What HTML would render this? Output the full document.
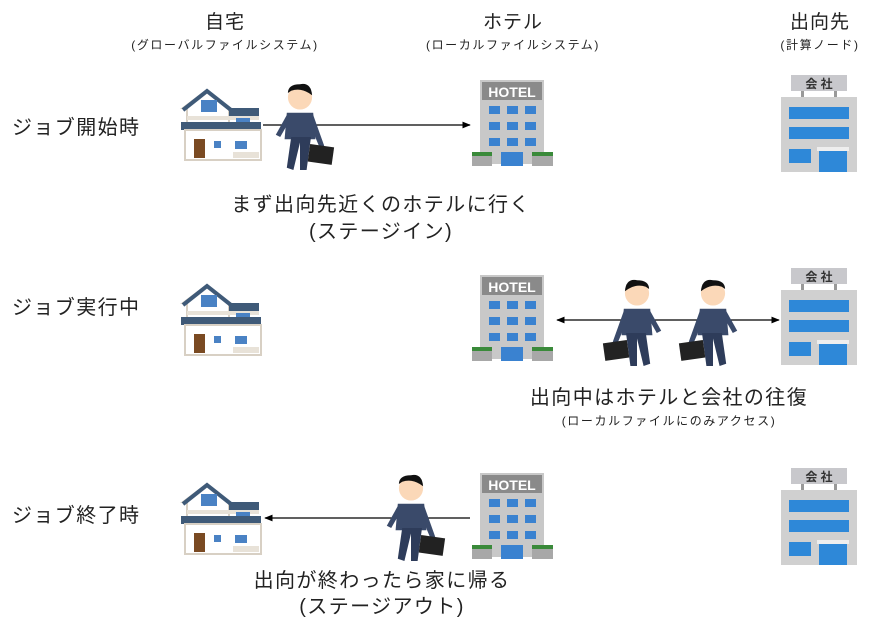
<!DOCTYPE html>
<html><head><meta charset="utf-8"><style>
html,body{margin:0;padding:0;background:#fff;width:886px;height:624px;overflow:hidden}
svg text{font-family:"Liberation Sans","Noto Sans CJK JP",sans-serif;fill:#222}
.big{font-size:20px;letter-spacing:1.4px}
.hd{font-size:19px;letter-spacing:1px}
.sm{font-size:12px;letter-spacing:1.6px}
</style></head><body>
<svg width="886" height="624" viewBox="0 0 886 624" xmlns="http://www.w3.org/2000/svg">
<defs>
<marker id="ah" viewBox="0 0 10 10" refX="9" refY="5" markerWidth="7" markerHeight="7" orient="auto-start-reverse"><path d="M0,1 L10,5 L0,9 z" fill="#000"/></marker>
<g id="house">
 <polygon points="2,22 26,4 48,22 48,56 6,56 6,22" fill="#fff" stroke="#d8d0c4" stroke-width="2"/>
 <polyline points="2,24 26,5 50,24" fill="none" stroke="#3f5a78" stroke-width="4"/>
 <rect x="48" y="22" width="30" height="10" fill="#3f5a78"/>
 <rect x="6" y="30" width="72" height="4" fill="#e8e2d8"/>
 <rect x="0" y="36" width="80" height="8" fill="#3f5a78"/>
 <rect x="4" y="44" width="76" height="30" fill="#fff" stroke="#d8d0c4" stroke-width="2"/>
 <rect x="20" y="14" width="16" height="12" fill="#4a82c4"/>
 <rect x="55" y="32" width="14" height="4" fill="#4a82c4"/>
 <rect x="13" y="53" width="11" height="19" fill="#7a4a22"/>
 <rect x="33" y="55" width="7" height="7" fill="#4a82c4"/>
 <rect x="54" y="55" width="12" height="8" fill="#4a82c4"/>
 <rect x="52" y="66" width="26" height="6" fill="#e8e2d8"/>
</g>
<g id="hotel">
 <rect x="8" y="0" width="64" height="84" fill="#c8c8c8"/>
 <rect x="10" y="2" width="60" height="18" fill="#8a8a8a"/>
 <text x="40" y="17" text-anchor="middle" font-size="14" font-weight="bold" style="fill:#fff">HOTEL</text>
 <g fill="#3a82d0">
 <rect x="17" y="26" width="11" height="8"/><rect x="35" y="26" width="11" height="8"/><rect x="53" y="26" width="11" height="8"/>
 <rect x="17" y="42" width="11" height="8"/><rect x="35" y="42" width="11" height="8"/><rect x="53" y="42" width="11" height="8"/>
 <rect x="17" y="58" width="11" height="8"/><rect x="35" y="58" width="11" height="8"/><rect x="53" y="58" width="11" height="8"/>
 <rect x="29" y="72" width="22" height="14"/></g>
 <rect x="0" y="74" width="20" height="12" fill="#a8a8a8"/><rect x="0" y="72" width="20" height="4" fill="#3a8a3a"/>
 <rect x="60" y="74" width="21" height="12" fill="#a8a8a8"/><rect x="60" y="72" width="21" height="4" fill="#3a8a3a"/>
</g>
<g id="comp">
 <rect x="10" y="0" width="56" height="16" fill="#c8c8cc"/>
 <text x="38" y="13" text-anchor="middle" font-size="12" font-weight="bold" style="fill:#333">会 社</text>
 <rect x="20" y="16" width="3" height="6" fill="#999"/><rect x="53" y="16" width="3" height="6" fill="#999"/>
 <rect x="0" y="22" width="76" height="75" fill="#d0d0d0"/>
 <rect x="8" y="32" width="60" height="12" fill="#2e88d8"/>
 <rect x="8" y="52" width="60" height="12" fill="#2e88d8"/>
 <rect x="8" y="74" width="22" height="14" fill="#2e88d8"/>
 <rect x="36" y="72" width="32" height="4" fill="#eee"/>
 <rect x="38" y="76" width="28" height="21" fill="#2e88d8"/>
</g>
<g id="man0">
 <circle cx="30" cy="14" r="11" fill="#fbd8b8"/>
 <path d="M19,12 Q20,0 30,2 Q41,2 41,10 L38,8 Q30,5 22,10 Z" fill="#111"/>
 <path d="M18,28 L42,28 L44,52 L16,52 Z" fill="#3a4a6a"/>
 <path d="M20,50 L24,80 L30,80 L30,55 L36,80 L42,78 L38,50 Z" fill="#2e3c5a"/>
 <path d="M18,30 L8,58 L12,60 L22,36Z" fill="#3a4a6a"/>
 <path d="M42,30 L52,48 L48,50 L40,36Z" fill="#3a4a6a"/>
 <rect x="0" y="58" width="22" height="16" fill="#222" transform="rotate(-8 10 66)"/>
</g>
<g id="man" transform="scale(1.1)"><use href="#man0"/></g>
<g id="manL" transform="translate(58,0) scale(-1.1,1.1)"><use href="#man0"/></g>
</defs>

<text x="225" y="28" text-anchor="middle" class="hd">自宅</text>
<text x="225" y="49" text-anchor="middle" class="sm">(グローバルファイルシステム)</text>
<text x="513" y="28" text-anchor="middle" class="hd">ホテル</text>
<text x="513" y="49" text-anchor="middle" class="sm">(ローカルファイルシステム)</text>
<text x="820" y="28" text-anchor="middle" class="hd">出向先</text>
<text x="820" y="49" text-anchor="middle" class="sm">(計算ノード)</text>

<text x="12" y="134" class="big">ジョブ開始時</text>
<text x="12" y="314" class="big">ジョブ実行中</text>
<text x="12" y="522" class="big">ジョブ終了時</text>

<use href="#house" x="181" y="86"/>
<use href="#hotel" x="472" y="80"/>
<use href="#comp" x="781" y="75"/>
<line x1="263" y1="125" x2="470" y2="125" stroke="#000" stroke-width="1.2" marker-end="url(#ah)"/>
<use href="#manL" x="275" y="82"/>
<text x="381" y="211" text-anchor="middle" class="big">まず出向先近くのホテルに行く</text>
<text x="381" y="238" text-anchor="middle" class="big">(ステージイン)</text>

<use href="#house" x="181" y="281"/>
<use href="#hotel" x="472" y="275"/>
<use href="#comp" x="781" y="268"/>
<line x1="557" y1="320" x2="779" y2="320" stroke="#000" stroke-width="1.2" marker-start="url(#ah)" marker-end="url(#ah)"/>
<use href="#man" x="604" y="278"/>
<use href="#man" x="680" y="278"/>
<text x="669" y="404" text-anchor="middle" class="big">出向中はホテルと会社の往復</text>
<text x="669" y="425" text-anchor="middle" class="sm">(ローカルファイルにのみアクセス)</text>

<use href="#house" x="181" y="480"/>
<use href="#hotel" x="472" y="473"/>
<use href="#comp" x="781" y="468"/>
<line x1="470" y1="518" x2="265" y2="518" stroke="#000" stroke-width="1.2" marker-end="url(#ah)"/>
<use href="#manL" x="386" y="473"/>
<text x="382" y="587" text-anchor="middle" class="big">出向が終わったら家に帰る</text>
<text x="382" y="613" text-anchor="middle" class="big">(ステージアウト)</text>
</svg>
</body></html>
